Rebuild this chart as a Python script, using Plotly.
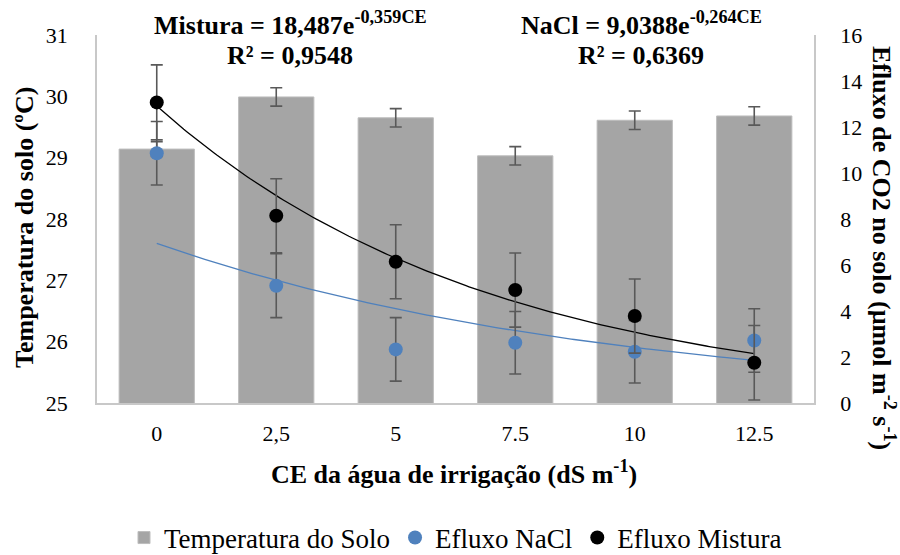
import numpy as np
import plotly.graph_objects as go

# Irrigation water electrical conductivity levels (dS m-1)
ce_labels = ["0", "2,5", "5", "7.5", "10", "12.5"]

# Soil temperature (ºC) and standard error
temperatura = [29.14, 29.99, 29.65, 29.03, 29.61, 29.68]
temperatura_err = [0.12, 0.15, 0.15, 0.15, 0.15, 0.15]

# Soil CO2 efflux (µmol m-2 s-1) and standard error
efluxo_nacl = [10.86, 5.10, 2.33, 2.62, 2.23, 2.72]
efluxo_nacl_err = [1.38, 1.39, 1.38, 1.36, 1.36, 1.38]
efluxo_mistura = [13.07, 8.14, 6.14, 4.91, 3.78, 1.75]
efluxo_mistura_err = [1.63, 1.61, 1.61, 1.61, 1.61, 1.62]

# Exponential trendline coefficients (fitted on category index 1..n)
mistura_a, mistura_b = 18.487, -0.359
nacl_a, nacl_b = 9.0388, -0.264

FONT = "Liberation Serif, Times New Roman, serif"
GRAY_BAR = "#A5A5A5"
BLUE = "#4F81BD"
ERR = "#595959"
AXIS = "#C8C8C8"

L, R, T, B = 97, 86, 35, 152
W, H = 900, 555
PW, PH = W - L - R, H - T - B

x = list(range(len(ce_labels)))
t = np.linspace(1, len(ce_labels), 200)
x_fit = t - 1

fig = go.Figure()

fig.add_trace(go.Bar(
    x=x, y=temperatura, name="Temperatura do Solo",
    marker=dict(color=GRAY_BAR, line=dict(color="#BDBDBD", width=1)),
    width=0.63,
    error_y=dict(type="data", array=temperatura_err, color=ERR, thickness=1.6, width=6),
))

fig.add_trace(go.Scatter(
    x=x_fit, y=nacl_a * np.exp(nacl_b * t), mode="lines",
    line=dict(color=BLUE, width=1.3), showlegend=False, hoverinfo="skip", yaxis="y2",
))
fig.add_trace(go.Scatter(
    x=x_fit, y=mistura_a * np.exp(mistura_b * t), mode="lines",
    line=dict(color="black", width=1.3), showlegend=False, hoverinfo="skip", yaxis="y2",
))

fig.add_trace(go.Scatter(
    x=x, y=efluxo_nacl, name="Efluxo NaCl", mode="markers", yaxis="y2",
    marker=dict(color=BLUE, size=14),
    error_y=dict(type="data", array=efluxo_nacl_err, color=ERR, thickness=1.6, width=6),
))
fig.add_trace(go.Scatter(
    x=x, y=efluxo_mistura, name="Efluxo Mistura", mode="markers", yaxis="y2",
    marker=dict(color="black", size=14),
    error_y=dict(type="data", array=efluxo_mistura_err, color=ERR, thickness=1.6, width=6),
))

fig.update_layout(
    width=W, height=H,
    margin=dict(l=L, r=R, t=T, b=B, autoexpand=False),
    paper_bgcolor="white", plot_bgcolor="white",
    font=dict(family=FONT, size=22, color="black"),
    bargap=0.37,
    showlegend=True,
    legend=dict(
        orientation="h", x=0.5, xanchor="center",
        yref="container", y=(H - 538) / H, yanchor="middle",
        font=dict(family=FONT, size=27), itemwidth=30,
    ),
    xaxis=dict(
        range=[-0.5, len(ce_labels) - 0.5], automargin=False,
        tickvals=x, ticktext=ce_labels, ticks="",
        showline=True, linecolor=AXIS, linewidth=1.5,
        showgrid=False, zeroline=False,
        tickfont=dict(family=FONT, size=22), ticklabelstandoff=10,
    ),
    yaxis=dict(
        range=[25, 31], dtick=1, ticks="", automargin=False,
        showline=True, linecolor=AXIS, linewidth=1.5,
        showgrid=False, zeroline=False,
        tickfont=dict(family=FONT, size=22), ticklabelstandoff=23,
    ),
    yaxis2=dict(
        range=[0, 16], dtick=2, overlaying="y", side="right", ticks="", automargin=False,
        showline=True, linecolor=AXIS, linewidth=1.5,
        showgrid=False, zeroline=False,
        tickfont=dict(family=FONT, size=22), ticklabelstandoff=20,
    ),
)


def place(text, px, py, size, angle=0):
    fig.add_annotation(
        text=text, xref="paper", yref="paper",
        x=(px - L) / PW, y=(H - B - py) / PH,
        xanchor="center", yanchor="middle", textangle=angle, showarrow=False,
        font=dict(family=FONT, color="black", size=size),
    )


# Trendline equations
place("<b>Mistura = 18,487e<sup>-0,359CE</sup></b>", 290, 24, 26)
place("<b>R² = 0,9548</b>", 290, 56, 26)
place("<b>NaCl = 9,0388e<sup>-0,264CE</sup></b>", 641, 24, 26)
place("<b>R² = 0,6369</b>", 641, 56, 26)

# Axis titles
place("<b>CE da água de irrigação (dS m<sup>-1</sup>)</b>", 454, 472, 26)
place("<b>Temperatura do solo (ºC)</b>", 25, 228, 26, -90)
place("<b>Efluxo de CO2 no solo (µmol m<sup>-2</sup> s<sup>-1</sup>)</b>", 884, 248, 26, 90)

fig.write_html("out.html")
